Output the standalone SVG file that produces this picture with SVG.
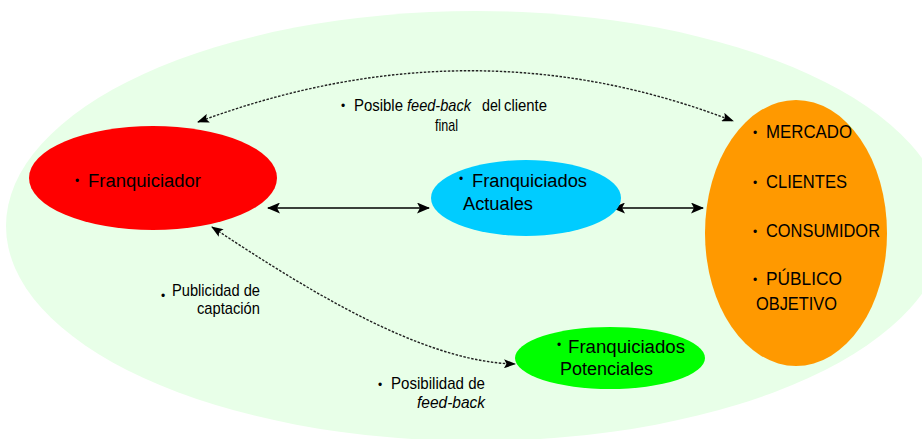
<svg xmlns="http://www.w3.org/2000/svg" width="922" height="439" viewBox="0 0 922 439">
<style>
text{font-family:"Liberation Sans",Arial,sans-serif;fill:#000}
.n{font-size:18px}
.l{font-size:17px}
.b{font-size:12px}
.i{font-style:italic}
.solid{fill:none;stroke:#000;stroke-width:1.6}
.dot{fill:none;stroke:#222;stroke-width:1.4;stroke-dasharray:2.5 1.5}
</style>
<defs>
<marker id="big" viewBox="0 0 13 11" refX="12" refY="5.5" markerWidth="13" markerHeight="11" markerUnits="userSpaceOnUse" orient="auto-start-reverse">
<path d="M0,0 L13,5.5 L0,11 L3,5.5 z" fill="#000"/>
</marker>
<marker id="sm" viewBox="0 0 12 9" refX="11" refY="4.5" markerWidth="12" markerHeight="9" markerUnits="userSpaceOnUse" orient="auto-start-reverse">
<path d="M0,0 L12,4.5 L0,9 L2.5,4.5 z" fill="#000"/>
</marker>
</defs>
<ellipse id="fondo" cx="476" cy="226" rx="470" ry="215" fill="#e8ffe8"/>
<g id="connectors">
<path class="dot" d="M198,122 Q472,20 733,121" marker-start="url(#sm)" marker-end="url(#sm)"/>
<path class="solid" d="M268,208 L429,208" marker-start="url(#big)" marker-end="url(#big)"/>
<path class="solid" d="M613,208 L703,208" marker-start="url(#big)" marker-end="url(#big)"/>
<path class="dot" d="M212,227 C300,285 420,362 515,364" marker-start="url(#sm)" marker-end="url(#sm)"/>
</g>
<g id="label-top">
<text class="b" x="341" y="110">•</text>
<text class="l" x="354" y="111" textLength="49" lengthAdjust="spacingAndGlyphs">Posible</text>
<text class="l i" x="407" y="111" textLength="64" lengthAdjust="spacingAndGlyphs">feed-back</text>
<text class="l" x="482" y="111" textLength="19" lengthAdjust="spacingAndGlyphs">del</text>
<text class="l" x="504" y="111" textLength="43" lengthAdjust="spacingAndGlyphs">cliente</text>
<text class="l" x="435" y="131" textLength="23" lengthAdjust="spacingAndGlyphs">final</text>
</g>
<g id="label-publicidad">
<text class="b" x="161" y="300">•</text>
<text class="l" x="172" y="296" textLength="88" lengthAdjust="spacingAndGlyphs">Publicidad de</text>
<text class="l" x="197" y="314" textLength="63" lengthAdjust="spacingAndGlyphs">captación</text>
</g>
<g id="label-posibilidad">
<text class="b" x="378" y="389">•</text>
<text class="l" x="391" y="389" textLength="94" lengthAdjust="spacingAndGlyphs">Posibilidad de</text>
<text class="l i" x="417" y="408" textLength="68" lengthAdjust="spacingAndGlyphs">feed-back</text>
</g>
<g id="franquiciador">
<ellipse cx="153" cy="178" rx="124" ry="52" fill="#ff0000"/>
<text class="b" x="75" y="185">•</text>
<text class="n" x="88" y="187" textLength="113" lengthAdjust="spacingAndGlyphs">Franquiciador</text>
</g>
<g id="actuales">
<ellipse cx="526" cy="198" rx="95" ry="38" fill="#00ccff"/>
<text class="b" x="459" y="183">•</text>
<text class="n" x="472" y="187" textLength="115" lengthAdjust="spacingAndGlyphs">Franquiciados</text>
<text class="n" x="463" y="210" textLength="70" lengthAdjust="spacingAndGlyphs">Actuales</text>
</g>
<g id="potenciales">
<ellipse cx="610" cy="358" rx="95" ry="31" fill="#00ff00"/>
<text class="b" x="557" y="349">•</text>
<text class="n" x="568" y="353" textLength="117" lengthAdjust="spacingAndGlyphs">Franquiciados</text>
<text class="n" x="560" y="375" textLength="93" lengthAdjust="spacingAndGlyphs">Potenciales</text>
</g>
<g id="mercado">
<ellipse cx="796" cy="233" rx="91" ry="133" fill="#ff9900"/>
<text class="b" x="753" y="137">•</text>
<text class="n" x="766" y="138" textLength="86" lengthAdjust="spacingAndGlyphs">MERCADO</text>
<text class="b" x="753" y="187">•</text>
<text class="n" x="766" y="188" textLength="81" lengthAdjust="spacingAndGlyphs">CLIENTES</text>
<text class="b" x="753" y="236">•</text>
<text class="n" x="766" y="237" textLength="114" lengthAdjust="spacingAndGlyphs">CONSUMIDOR</text>
<text class="b" x="753" y="284">•</text>
<text class="n" x="766" y="285" textLength="76" lengthAdjust="spacingAndGlyphs">PÚBLICO</text>
<text class="n" x="756" y="310" textLength="81" lengthAdjust="spacingAndGlyphs">OBJETIVO</text>
</g>
</svg>
